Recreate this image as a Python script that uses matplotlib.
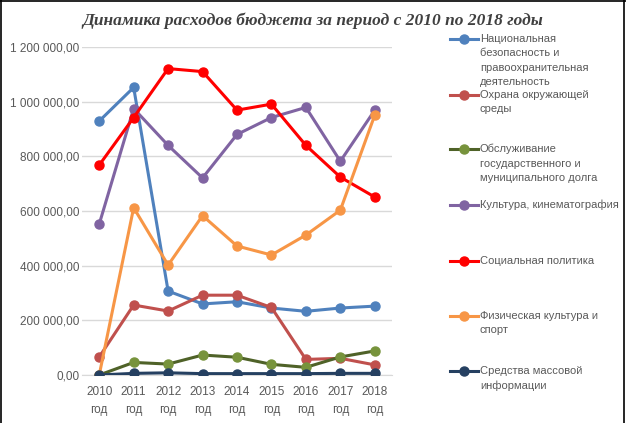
import matplotlib
matplotlib.use("Agg")
import matplotlib.pyplot as plt
from matplotlib.lines import Line2D
from matplotlib.ticker import FuncFormatter

years = ["2010\nгод", "2011\nгод", "2012\nгод", "2013\nгод", "2014\nгод",
         "2015\nгод", "2016\nгод", "2017\nгод", "2018\nгод"]

security = [929000, 1052000, 307000, 260000, 268000, 245000, 233000, 245000, 252000]
ecology = [66000, 256000, 234000, 292000, 292000, 247000, 57000, 61000, 37000]
debt = [0, 46000, 40000, 73000, 65000, 39000, 28000, 66000, 88000]
culture = [552000, 975000, 840000, 721000, 880000, 942000, 979000, 782000, 969000]
social = [768000, 942000, 1121000, 1110000, 969000, 991000, 840000, 724000, 651000]
sport = [0, 612000, 402000, 583000, 472000, 439000, 512000, 603000, 951000]
media = [0, 6000, 8000, 5000, 5000, 5000, 5000, 6000, 6000]

labels = [
    "Национальная\nбезопасность и\nправоохранительная\nдеятельность",
    "Охрана окружающей\nсреды",
    "Обслуживание\nгосударственного и\nмуниципального долга",
    "Культура, кинематография",
    "Социальная политика",
    "Физическая культура и\nспорт",
    "Средства массовой\nинформации",
]
series = [security, ecology, debt, culture, social, sport, media]
line_colors = ["#4F81BD", "#C0504D", "#4F6228", "#8064A2", "#FF0000", "#F79646", "#254061"]
marker_colors = ["#4F81BD", "#C0504D", "#77933C", "#8064A2", "#FF0000", "#F79646", "#254061"]

plt.rcParams['font.family'] = ['Liberation Sans', 'DejaVu Sans']
gray = "#595959"

fig = plt.figure(figsize=(6.26, 4.23), dpi=100)
ax = fig.add_axes([82 / 626, 1 - 375 / 423, 310 / 626, 328 / 423])

x = range(len(years))
for vals, lc, mc in zip(series, line_colors, marker_colors):
    ax.plot(x, vals, color=lc, lw=2.2, marker="o", ms=6.5,
            markerfacecolor=mc, markeredgecolor=mc, zorder=3)

ax.set_xlim(-0.5, len(years) - 0.5)
ax.set_ylim(0, 1200000)
ax.set_yticks(range(0, 1200001, 200000))
ax.yaxis.set_major_formatter(FuncFormatter(
    lambda v, p: f"{v:,.2f}".replace(",", " ").replace(".", ",")))
ax.set_xticks(list(x))
ax.set_xticklabels(years, linespacing=1.6)
ax.grid(axis="y", color="#D9D9D9", lw=1)
ax.set_axisbelow(True)
for s in ["top", "right", "left"]:
    ax.spines[s].set_visible(False)
ax.spines["bottom"].set_color("#D9D9D9")
ax.tick_params(length=0, labelsize=8.5, colors=gray, pad=8)
ax.tick_params(axis="y", pad=2)

fig.text(0.5, 1 - 21 / 423, "Динамика расходов бюджета за период с 2010 по 2018 годы",
         ha="center", va="center", fontsize=12.5, fontweight="bold", fontstyle="italic",
         family="Liberation Serif", color="#404040")

# легенда вручную: каждая подпись выровнена по верхней строке
rows = [39, 95, 149, 205, 261, 316, 371]
for lab, lc, mc, y in zip(labels, line_colors, marker_colors, rows):
    yf = 1 - y / 423
    fig.add_artist(Line2D([450 / 626, 478 / 626], [yf, yf], transform=fig.transFigure,
                          color=lc, lw=2.2))
    fig.add_artist(Line2D([464 / 626], [yf], transform=fig.transFigure, marker="o",
                          ms=6.5, color=mc))
    fig.text(480 / 626, yf + 5 / 423, lab, ha="left", va="top", fontsize=8,
             color=gray, linespacing=1.55)

# рамка
for xs, ys in [([0.001, 0.001], [0, 1]), ([0, 1], [0.998, 0.998]), ([0.9975, 0.9975], [0, 1])]:
    fig.add_artist(Line2D(xs, ys, transform=fig.transFigure, color="black", lw=1.2))

fig.savefig("out.png", dpi=100)
